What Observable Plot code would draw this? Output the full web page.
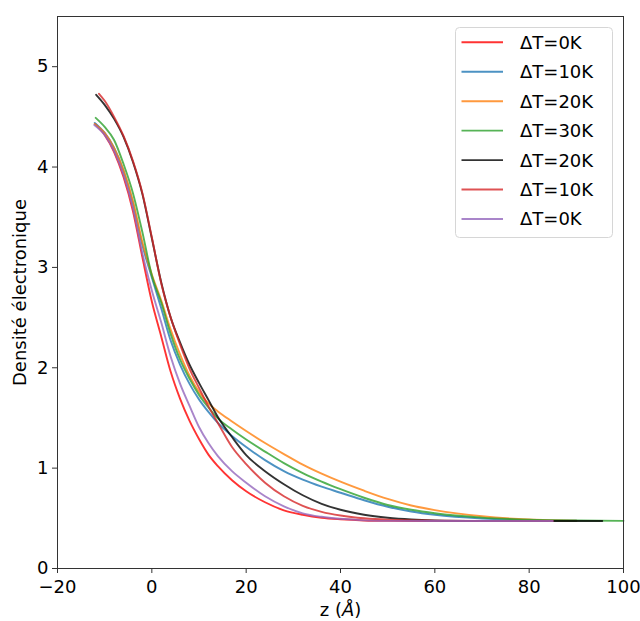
<!DOCTYPE html>
<html>
<head>
<meta charset="utf-8">
<script src="https://cdn.jsdelivr.net/npm/d3@7"></script>
<script src="https://cdn.jsdelivr.net/npm/@observablehq/plot@0.6"></script>
<style>
  html, body { margin: 0; padding: 0; background: white; }
  #wrap { position: relative; width: 640px; height: 621px; font-family: "DejaVu Sans", sans-serif; }
  #legend { position: absolute; left: 455px; top: 27px; }
</style>
</head>
<body>
<div id="wrap"></div>
<script>
// ---- data ----
const seriesNames = ["ΔT=0K", "ΔT=10K", "ΔT=20K", "ΔT=30K", "ΔT=20K", "ΔT=10K", "ΔT=0K"];
const seriesColors = ["#ff0000", "#1f77b4", "#ff7f0e", "#2ca02c", "#000000", "#d62728", "#9467bd"];

const z0 = [-12, -10, -8, -6, -4, -2, 0, 2, 4, 6, 8, 10, 12, 14, 17, 20, 24, 28, 32, 36, 40, 45, 50, 60, 70, 85];
const d0 = [4.43, 4.32, 4.15, 3.90, 3.56, 3.10, 2.66, 2.31, 1.96, 1.69, 1.47, 1.29, 1.135, 1.02, 0.88, 0.77, 0.66, 0.58, 0.535, 0.505, 0.49, 0.479, 0.475, 0.473, 0.472, 0.472];

const z1 = [-12.1, -10, -8, -6, -4, -2, 0, 2, 4, 6, 8, 10, 12, 14, 17, 20, 24, 28, 32, 36, 40, 45, 50, 55, 60, 70, 80, 90];
const d1 = [4.44, 4.34, 4.19, 3.96, 3.64, 3.22, 2.90, 2.59, 2.27, 2.03, 1.84, 1.685, 1.56, 1.45, 1.32, 1.21, 1.08, 0.97, 0.885, 0.815, 0.755, 0.68, 0.615, 0.568, 0.535, 0.498, 0.482, 0.476];

const z2 = [-12.1, -10, -8, -6, -4, -2, 0, 2, 4, 6, 8, 10, 12, 14, 17, 20, 24, 28, 32, 36, 40, 45, 50, 55, 60, 70, 80, 90];
const d2 = [4.43, 4.34, 4.19, 3.97, 3.66, 3.25, 2.93, 2.67, 2.38, 2.13, 1.92, 1.76, 1.645, 1.565, 1.465, 1.37, 1.25, 1.14, 1.035, 0.945, 0.865, 0.775, 0.693, 0.628, 0.582, 0.52, 0.488, 0.477];

const z3 = [-11.9, -10, -8, -6, -4, -2, 0, 2, 4, 6, 8, 10, 12, 14, 17, 20, 24, 28, 32, 36, 40, 45, 50, 55, 60, 70, 80, 90, 100];
const d3v = [4.49, 4.40, 4.27, 4.03, 3.74, 3.35, 2.92, 2.65, 2.335, 2.08, 1.89, 1.73, 1.605, 1.495, 1.385, 1.285, 1.165, 1.05, 0.95, 0.865, 0.79, 0.705, 0.633, 0.585, 0.55, 0.507, 0.486, 0.478, 0.475];

const z4 = [-11.8, -10, -8, -6, -4, -2, 0, 2, 4, 6, 8, 10, 12, 14, 17, 20, 24, 28, 32, 36, 40, 45, 50, 55, 60, 70, 80, 95.5];
const d4 = [4.72, 4.62, 4.48, 4.30, 4.05, 3.73, 3.29, 2.85, 2.50, 2.25, 2.03, 1.85, 1.68, 1.51, 1.31, 1.13, 0.97, 0.84, 0.73, 0.645, 0.585, 0.535, 0.505, 0.488, 0.48, 0.475, 0.474, 0.474];

const z5 = [-11.2, -10, -8, -6, -4, -2, 0, 2, 4, 6, 8, 10, 12, 14, 17, 20, 24, 28, 32, 36, 40, 45, 50, 60, 70, 85];
const d5 = [4.73, 4.66, 4.50, 4.31, 4.06, 3.74, 3.30, 2.84, 2.50, 2.23, 1.99, 1.80, 1.615, 1.45, 1.21, 1.04, 0.855, 0.72, 0.625, 0.565, 0.528, 0.50, 0.486, 0.477, 0.474, 0.474];

const z6 = [-12.2, -10, -8, -6, -4, -2, 0, 2, 4, 6, 8, 10, 12, 14, 17, 20, 24, 28, 32, 36, 40, 45, 50, 60, 70, 85];
const d6 = [4.42, 4.32, 4.16, 3.92, 3.59, 3.14, 2.77, 2.45, 2.11, 1.84, 1.62, 1.41, 1.25, 1.12, 0.97, 0.855, 0.72, 0.62, 0.55, 0.515, 0.495, 0.48, 0.475, 0.473, 0.473, 0.473];

const xTicks = [-20, 0, 20, 40, 60, 80, 100];
const yTicks = [0, 1, 2, 3, 4, 5];
const xLabel = "z (Å)";
const yLabel = "Densité électronique";

// ---- build ----
const zs = [z0, z1, z2, z3, z4, z5, z6];
const ds = [d0, d1, d2, d3v, d4, d5, d6];
const series = zs.map((zz, i) => zz.map((z, j) => ({z, d: ds[i][j], k: i})));

const chart = Plot.plot({
  width: 640,
  height: 621,
  marginLeft: 57,
  marginRight: 17,
  marginTop: 16,
  marginBottom: 53,
  style: {fontFamily: "DejaVu Sans", fontSize: "18px", color: "black", background: "white", overflow: "visible"},
  x: {domain: [-20, 100]},
  y: {domain: [0, 5.5]},
  marks: [
    ...series.map((s, i) => Plot.line(s, {
      x: "z", y: "d", stroke: seriesColors[i], strokeWidth: 1.9, strokeOpacity: 0.8, curve: "monotone-x"
    })),
    Plot.frame({stroke: "#333", strokeWidth: 1}),
    Plot.axisX({ticks: xTicks, tickSize: 5, tickPadding: 7, label: null, fontSize: 18, stroke: "#333"}),
    Plot.axisY({ticks: yTicks, tickSize: 5, tickPadding: 4, label: null, fontSize: 18, stroke: "#333", tickFormat: d => String(d)}),
    Plot.text([yLabel], {frameAnchor: "left", rotate: -90, dx: -37, textAnchor: "middle", lineAnchor: "middle", text: d => d, fontSize: 18, fill: "black"}),
    Plot.text([xLabel], {frameAnchor: "bottom", dy: 42, textAnchor: "middle", lineAnchor: "middle", text: d => d, fontSize: 18, fill: "black"})
  ]
});

const wrap = document.getElementById("wrap");
wrap.appendChild(chart);

// italic Å in x label
d3.select(chart).selectAll("text").each(function() {
  if (this.textContent === xLabel) {
    const t = d3.select(this);
    t.text(null);
    t.append("tspan").text("z (");
    t.append("tspan").attr("font-style", "italic").text("Å");
    t.append("tspan").text(")");
  }
});

// legend
const lw = 158, lh = 211, rowH = 29.45, firstY = 15.3;
const leg = d3.select(wrap).append("svg")
  .attr("id", "legend")
  .attr("width", lw).attr("height", lh)
  .style("font-family", "DejaVu Sans").style("font-size", "18px");
leg.append("rect").attr("x", 0.5).attr("y", 0.5).attr("width", lw - 1).attr("height", lh - 1)
  .attr("rx", 4).attr("fill", "white").attr("fill-opacity", 0.8).attr("stroke", "#d6d6d6");
seriesNames.forEach((name, i) => {
  const y = firstY + i * rowH;
  leg.append("line").attr("x1", 6.5).attr("x2", 48).attr("y1", y).attr("y2", y)
    .attr("stroke", seriesColors[i]).attr("stroke-width", 1.9).attr("stroke-opacity", 0.8);
  leg.append("text").attr("x", 65).attr("y", y).attr("dy", "0.36em").attr("fill", "black").text(name);
});
</script>
</body>
</html>
